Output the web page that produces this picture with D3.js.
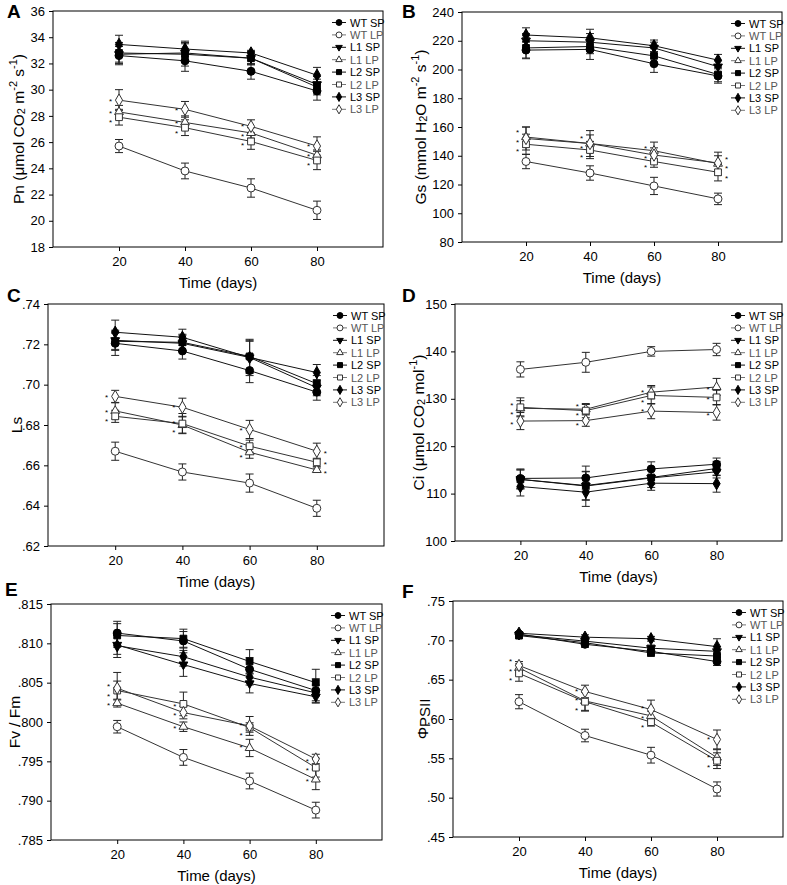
<!DOCTYPE html>
<html>
<head>
<meta charset="utf-8">
<script src="https://cdn.jsdelivr.net/npm/d3@7"></script>
<style>
  body { margin: 0; background: #fff; }
  svg { font-family: Arial, "Liberation Sans", sans-serif; }
</style>
</head>
<body>
<div id="chart"></div>
<script>
// sampling days (x axis)
const days = [20, 40, 60, 80];
const xTicks = [20, 40, 60, 80];

// series order: WT SP, WT LP, L1 SP, L1 LP, L2 SP, L2 LP, L3 SP, L3 LP
const seriesNames = ['WT SP', 'WT LP', 'L1 SP', 'L1 LP', 'L2 SP', 'L2 LP', 'L3 SP', 'L3 LP'];

// A - Pn
const pnMeans = [
    [32.6, 32.2, 31.4, 29.9],
    [25.7, 23.8, 22.5, 20.8],
    [32.7, 32.8, 32.4, 30.4],
    [28.3, 27.5, 26.7, 25.0],
    [32.8, 32.7, 32.4, 30.2],
    [27.9, 27.1, 26.05, 24.6],
    [33.45, 33.1, 32.8, 31.1],
    [29.2, 28.5, 27.2, 25.7]
];
const pnErr = [
    [0.7, 0.8, 0.6, 0.7],
    [0.5, 0.6, 0.7, 0.7],
    [0.6, 0.7, 0.5, 0.6],
    [0.5, 0.5, 0.4, 0.4],
    [0.8, 0.9, 0.5, 0.6],
    [0.6, 0.6, 0.6, 0.7],
    [0.7, 0.6, 0.2, 0.6],
    [0.8, 0.6, 0.5, 0.7]
];
const pnTicks = [18, 20, 22, 24, 26, 28, 30, 32, 34, 36];

// B - Gs
const gsMeans = [
    [213.5, 214, 204, 195.5],
    [136, 128, 119, 110],
    [220, 219, 215, 202],
    [153, 148.5, 143.5, 134.5],
    [215, 216, 209.5, 196.5],
    [148, 144, 136, 128.5],
    [224, 222, 216.5, 206.5],
    [152, 148.5, 140.5, 135]
];
const gsErr = [
    [6, 7, 6, 5],
    [5, 5, 6, 4],
    [5, 6, 4, 4],
    [7, 9, 6, 8],
    [7, 5, 5, 5],
    [7, 6, 4, 6],
    [5, 6, 4, 4],
    [8, 6, 5, 5]
];
const gsTicks = [80, 100, 120, 140, 160, 180, 200, 220, 240];

// C - Ls
const lsMeans = [
    [0.7205, 0.7167, 0.707, 0.6963],
    [0.667, 0.6567, 0.6512, 0.6387],
    [0.722, 0.7205, 0.7135, 0.6985],
    [0.687, 0.680, 0.6665, 0.6577],
    [0.7215, 0.721, 0.714, 0.7005],
    [0.6843, 0.6807, 0.6695, 0.6615],
    [0.726, 0.7235, 0.7135, 0.706],
    [0.6942, 0.6888, 0.6778, 0.667]
];
const lsErr = [
    [0.006, 0.004, 0.006, 0.004],
    [0.0045, 0.004, 0.0045, 0.004],
    [0.005, 0.004, 0.008, 0.004],
    [0.004, 0.004, 0.003, 0.001],
    [0.004, 0.004, 0.008, 0.004],
    [0.003, 0.005, 0.003, 0.002],
    [0.006, 0.004, 0.009, 0.004],
    [0.003, 0.0045, 0.0045, 0.004]
];
const lsTicks = [0.62, 0.64, 0.66, 0.68, 0.70, 0.72, 0.74];

// D - Ci
const ciMeans = [
    [113.2, 113.3, 115.2, 116.2],
    [136.2, 137.7, 140, 140.4],
    [113, 111.6, 113.3, 114.6],
    [128, 127.8, 131.4, 132.5],
    [113, 111.7, 113.4, 115.3],
    [128.2, 127.5, 130.7, 130.3],
    [111.5, 110.3, 112.2, 112.1],
    [125.3, 125.4, 127.4, 127.1]
];
const ciErr = [
    [2, 2.5, 1.5, 1.3],
    [1.6, 2.1, 1, 1.3],
    [2, 3, 2, 1.3],
    [1.6, 1, 1.4, 1.8],
    [2, 3, 1.5, 1.5],
    [2, 1.5, 1.8, 1.5],
    [2, 3, 1.5, 1.8],
    [1.8, 1.2, 1.6, 1.6]
];
const ciTicks = [100, 110, 120, 130, 140, 150];

// E - Fv/Fm
const fvMeans = [
    [0.8113, 0.8103, 0.8067, 0.8040],
    [0.7994, 0.7955, 0.7925, 0.7888],
    [0.8098, 0.8073, 0.8049, 0.8032],
    [0.8024, 0.7994, 0.7967, 0.7927],
    [0.8110, 0.8106, 0.8077, 0.8050],
    [0.8040, 0.8023, 0.7993, 0.7942],
    [0.8097, 0.8083, 0.8057, 0.8037],
    [0.8043, 0.8012, 0.7995, 0.7953]
];
const fvErr = [
    [0.0015, 0.0012, 0.0015, 0.0015],
    [0.0008, 0.001, 0.001, 0.001],
    [0.0012, 0.0015, 0.0012, 0.0008],
    [0.0005, 0.0006, 0.0011, 0.0013],
    [0.0015, 0.0012, 0.0015, 0.0017],
    [0.0012, 0.0015, 0.0006, 0.0012],
    [0.0015, 0.0012, 0.001, 0.001],
    [0.002, 0.0008, 0.0012, 0.0006]
];
const fvTicks = [0.785, 0.790, 0.795, 0.800, 0.805, 0.810, 0.815];

// F - PhiPSII
const phiMeans = [
    [0.708, 0.695, 0.686, 0.673],
    [0.622, 0.579, 0.554, 0.511],
    [0.707, 0.699, 0.690, 0.686],
    [0.665, 0.623, 0.604, 0.551],
    [0.706, 0.697, 0.684, 0.680],
    [0.658, 0.622, 0.596, 0.547],
    [0.709, 0.704, 0.702, 0.692],
    [0.668, 0.635, 0.612, 0.574]
];
const phiErr = [
    [0.003, 0.004, 0.004, 0.005],
    [0.009, 0.008, 0.010, 0.009],
    [0.003, 0.004, 0.004, 0.006],
    [0.005, 0.012, 0.006, 0.010],
    [0.003, 0.004, 0.004, 0.005],
    [0.010, 0.012, 0.005, 0.010],
    [0.002, 0.003, 0.003, 0.010],
    [0.005, 0.008, 0.012, 0.012]
];
const phiTicks = [0.45, 0.50, 0.55, 0.60, 0.65, 0.70, 0.75];

const noLead = f => v => d3.format(f)(v).replace(/^0/, '');

// panel layout (frame boxes in px)
const panels = [
    { letter: 'A', lx: 7, ly: 18, box: [53, 11, 383, 247], means: pnMeans, err: pnErr, ticks: pnTicks, fmt: d3.format('d'),
      labX: 18, label: [['Pn (\u03bcmol CO', 0], ['2', 'sub'], [' m', 0], ['-2', 'sup'], [' s', 0], ['-1', 'sup'], [')', 0]], starRight: false },
    { letter: 'B', lx: 402, ly: 18, box: [462, 12, 782, 242], means: gsMeans, err: gsErr, ticks: gsTicks, fmt: d3.format('d'),
      labX: 420, label: [['Gs (mmol H', 0], ['2', 'sub'], ['O m', 0], ['-2', 'sup'], [' s', 0], ['-1', 'sup'], [')', 0]], starRight: true },
    { letter: 'C', lx: 7, ly: 302, box: [48, 304, 384, 546], means: lsMeans, err: lsErr, ticks: lsTicks, fmt: noLead('.2f'),
      labX: 16, label: [['Ls', 0]], starRight: true },
    { letter: 'D', lx: 402, ly: 302, box: [455, 304, 782, 541], means: ciMeans, err: ciErr, ticks: ciTicks, fmt: d3.format('d'),
      labX: 418, label: [['Ci (\u03bcmol CO', 0], ['2', 'sub'], [' mol', 0], ['-1', 'sup'], [')', 0]], starRight: false },
    { letter: 'E', lx: 5, ly: 596, box: [51, 604, 382, 840], means: fvMeans, err: fvErr, ticks: fvTicks, fmt: noLead('.3f'),
      labX: 14, label: [['Fv / Fm', 0]], starRight: false },
    { letter: 'F', lx: 402, ly: 598, box: [453, 601, 783, 837], means: phiMeans, err: phiErr, ticks: phiTicks, fmt: noLead('.2f'),
      labX: 422, label: [['\u03a6', 0], ['PSII', 'psii']], starRight: false }
];

const width = 787, height = 885;
const svg = d3.select('#chart').append('svg')
    .attr('width', width)
    .attr('height', height);

// marker shapes per line (WT circle, L1 triangle, L2 square, L3 diamond)
const symbolFor = i => {
    const line = Math.floor(i / 2);
    const sp = i % 2 === 0;
    if (line === 0) return { type: d3.symbolCircle, size: 50, rot: 0 };
    if (line === 1) return { type: d3.symbolTriangle, size: 34, rot: sp ? 180 : 0 };
    if (line === 2) return { type: d3.symbolSquare, size: 46, rot: 0 };
    return { type: d3.symbolDiamond, size: 44, rot: 0 };
};

function drawMarker(g, i, x, y, scale) {
    const s = symbolFor(i);
    const sp = i % 2 === 0;
    g.append('path')
        .attr('d', d3.symbol().type(s.type).size(s.size * scale)())
        .attr('transform', `translate(${x},${y}) rotate(${s.rot})`)
        .attr('fill', sp ? '#000' : '#fff')
        .attr('stroke', sp ? '#000' : '#333')
        .attr('stroke-width', 1);
}

panels.forEach(p => {
    const [x0, y0, x1, y1] = p.box;
    const xScale = d3.scaleLinear().domain([0, 100]).range([x0, x1]);
    const yScale = d3.scaleLinear().domain([p.ticks[0], p.ticks[p.ticks.length - 1]]).range([y1, y0]);
    const g = svg.append('g');

    // axes
    g.append('g')
        .attr('transform', `translate(${x0},0)`)
        .call(d3.axisLeft(yScale).tickValues(p.ticks).tickFormat(p.fmt).tickSize(4).tickSizeOuter(0).tickPadding(4))
        .call(a => a.select('.domain').remove())
        .selectAll('text')
        .attr('font-size', '13px')
        .attr('fill', '#000');

    g.append('g')
        .attr('transform', `translate(0,${y1})`)
        .call(d3.axisBottom(xScale).tickValues(xTicks).tickSize(4).tickSizeOuter(0).tickPadding(6))
        .call(a => a.select('.domain').remove())
        .selectAll('text')
        .attr('font-size', '13px')
        .attr('fill', '#000');

    g.append('rect')
        .attr('x', x0).attr('y', y0)
        .attr('width', x1 - x0).attr('height', y1 - y0)
        .attr('fill', 'none')
        .attr('stroke', '#000')
        .attr('stroke-width', 1);

    // x label
    g.append('text')
        .attr('x', (x0 + x1) / 2)
        .attr('y', y1 + 41)
        .attr('text-anchor', 'middle')
        .attr('font-size', '15px')
        .text('Time (days)');

    // y label
    const yl = g.append('text')
        .attr('transform', `translate(${p.labX},${(y0 + y1) / 2}) rotate(-90)`)
        .attr('text-anchor', 'middle')
        .attr('dominant-baseline', 'central')
        .attr('font-size', '15.5px');
    p.label.forEach(([t, kind]) => {
        const ts = yl.append('tspan').text(t);
        if (kind === 'sub') ts.attr('baseline-shift', '-25%').attr('font-size', '11px');
        if (kind === 'sup') ts.attr('baseline-shift', '45%').attr('font-size', '11px');
        if (kind === 'psii') ts.attr('baseline-shift', '-15%').attr('font-size', '15px');
    });

    // panel letter
    svg.append('text')
        .attr('x', p.lx).attr('y', p.ly)
        .attr('font-size', '19px')
        .attr('font-weight', 'bold')
        .text(p.letter);

    const line = d3.line()
        .x((d, k) => xScale(days[k]))
        .y(d => yScale(d));

    // lines, error bars
    p.means.forEach((vals, i) => {
        const sp = i % 2 === 0;
        g.append('path')
            .datum(vals)
            .attr('fill', 'none')
            .attr('stroke', sp ? '#111' : '#333')
            .attr('stroke-width', 1)
            .attr('d', line);

        vals.forEach((v, k) => {
            const cx = xScale(days[k]);
            const e = p.err[i][k];
            const top = yScale(v + e), bot = yScale(v - e);
            g.append('line').attr('x1', cx).attr('x2', cx).attr('y1', top).attr('y2', bot)
                .attr('stroke', '#222').attr('stroke-width', 1);
            [top, bot].forEach(yy => {
                g.append('line').attr('x1', cx - 4).attr('x2', cx + 4).attr('y1', yy).attr('y2', yy)
                    .attr('stroke', '#222').attr('stroke-width', 1);
            });
        });
    });

    // markers
    p.means.forEach((vals, i) => {
        vals.forEach((v, k) => drawMarker(g, i, xScale(days[k]), yScale(v), 1));
    });

    // significance stars on transgenic LP lines, spread so they do not collide
    const gap = 9.5;
    days.forEach((day, k) => {
        const stars = [3, 5, 7].map(i => ({ y: yScale(p.means[i][k]) }))
            .sort((a, b) => a.y - b.y);
        const orig = stars.map(s => s.y);
        for (let j = 1; j < stars.length; j++) {
            if (stars[j].y - stars[j - 1].y < gap) stars[j].y = stars[j - 1].y + gap;
        }
        // keep the cluster centred on the original points
        const shift = (d3.mean(stars, s => s.y) - d3.mean(orig)) ;
        const right = p.starRight && k === 3;
        stars.forEach(s => {
            g.append('text')
                .attr('x', xScale(day) + (right ? 7 : -7))
                .attr('y', s.y - shift + 5)
                .attr('text-anchor', right ? 'start' : 'end')
                .attr('font-size', '8px')
                .attr('fill', '#000')
                .text('*');
        });
    });

    // legend
    const lg = g.append('g').attr('transform', `translate(${x1 - 51},${y0 + 11.5})`);
    seriesNames.forEach((name, i) => {
        const ry = i * 12.4;
        const sp = i % 2 === 0;
        lg.append('line').attr('x1', 0).attr('x2', 14).attr('y1', ry).attr('y2', ry)
            .attr('stroke', sp ? '#111' : '#777').attr('stroke-width', 1);
        drawMarker(lg, i, 7, ry, 0.55);
        lg.append('text')
            .attr('x', 18).attr('y', ry + 4)
            .attr('font-size', '11px')
            .attr('fill', sp ? '#000' : '#555')
            .text(name);
    });
});
</script>
</body>
</html>
